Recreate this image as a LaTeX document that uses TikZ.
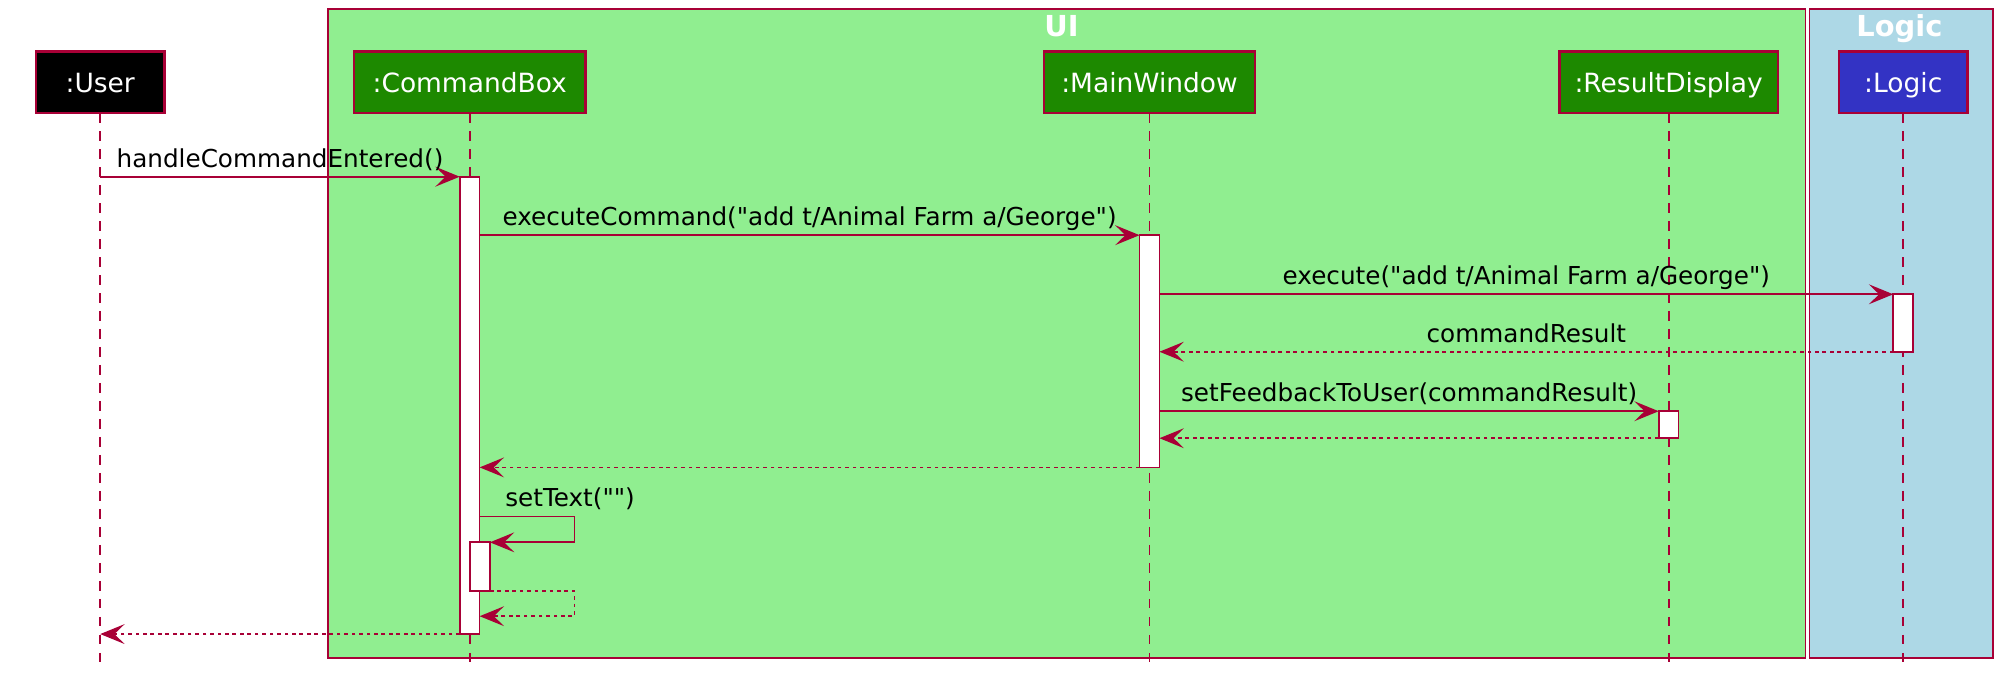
\documentclass[tikz,border=0pt]{standalone}
\usepackage{fontspec}
\setmainfont[Ligatures=TeXOff]{DejaVu Sans}
\usetikzlibrary{arrows.meta,calc}
\definecolor{bord}{HTML}{A80036}
\definecolor{uibg}{HTML}{90EE90}
\definecolor{logicbg}{HTML}{ADD8E6}
\definecolor{uicol}{HTML}{1D8900}
\definecolor{logiccol}{HTML}{3333C4}
\begin{document}
\begin{tikzpicture}[x=1pt,y=-1pt,
  grp/.style={draw=bord,line width=1.3pt,inner sep=0pt,outer sep=0pt,anchor=north west},
  part/.style={draw=bord,line width=2pt,text=white,minimum height=48pt,inner sep=0pt,outer sep=0pt,text height=15.6pt,text depth=0pt,font=\fontsize{20.6}{24}\selectfont},
  life/.style={draw=bord,line width=1.3pt,dash pattern=on 7.5pt off 6.5pt},
  act/.style={draw=bord,fill=white,line width=1.3pt,minimum width=15.5pt,inner sep=0pt,outer sep=0pt,anchor=north},
  msg/.style={draw=bord,line width=1.3pt,-{Stealth[length=19pt,width=15.5pt,inset=8pt]}},
  ret/.style={msg,dash pattern=on 2.9pt off 2.9pt},
  lbl/.style={font=\fontsize{19.2}{22}\selectfont,anchor=base,inner sep=0pt},
  ttl/.style={font=\bfseries\fontsize{22.5}{26}\selectfont,text=white,anchor=base,inner sep=0pt}
]
\useasboundingbox (0,0) rectangle (1568,538.5);
% groups
\node[grp,fill=uibg,minimum width=1150pt,minimum height=505pt] (ui) at (255,7) {};
\node[grp,fill=logicbg,minimum width=143pt,minimum height=505pt] (lg) at (1408,7) {};
\node[ttl] (uit) at (826,28.5) {UI};
\node[ttl] (lgt) at (1478,28.5) {Logic};
% participants
\node[part,fill=black,minimum width=100pt] (user) at (78,64) {:User};
\node[part,fill=uicol,minimum width=180pt] (cb) at (365.5,64) {:CommandBox};
\node[part,fill=uicol,minimum width=164pt] (mw) at (894.5,64) {:MainWindow};
\node[part,fill=uicol,minimum width=170pt] (rd) at (1298.5,64) {:ResultDisplay};
\node[part,fill=logiccol,minimum width=100pt] (lo) at (1481,64) {:Logic};
% lifeline ends
\coordinate (uB) at (78,516);
\coordinate (cbB) at (365.5,516);
\coordinate (mwB) at (894.5,516);
\coordinate (rdB) at (1298.5,516);
\coordinate (loB) at (1481,516);
\draw[life] (user.south) -- (uB);
\draw[life] (cb.south) -- (cbB);
\draw[life] (mw.south) -- (mwB);
\draw[life] (rd.south) -- (rdB);
\draw[life] (lo.south) -- (loB);
% activations
\node[act,minimum height=355.9pt] (aCB) at (365.5,137.5) {};
\node[act,minimum height=180.7pt] (aMW) at (894.5,183) {};
\node[act,minimum height=44.7pt] (aLG) at (1481,229) {};
\node[act,minimum height=21pt] (aRD) at (1298.5,320) {};
\node[act,minimum height=38pt] (aN) at (373.5,422) {};
% self message corners
\coordinate (s1) at (447,402);
\coordinate (s2) at (447,422);
\coordinate (s3) at (447,460);
\coordinate (s4) at (447,479.5);
% messages
\draw[msg] (uB |- aCB.north west) -- node[lbl,yshift=7.3pt] {handleCommandEntered()} (aCB.north west);
\draw[msg] (aCB.east |- aMW.north) -- node[lbl,yshift=7.3pt] {executeCommand("add t/Animal Farm a/George")} (aMW.north west);
\draw[msg] (aMW.east |- aLG.north) -- node[lbl,yshift=7.3pt] {execute("add t/Animal Farm a/George")} (aLG.north west);
\draw[ret] (aLG.south west) -- node[lbl,yshift=7.3pt] {commandResult} (aMW.east |- aLG.south west);
\draw[msg] (aMW.east |- aRD.north) -- node[lbl,yshift=7.3pt] {setFeedbackToUser(commandResult)} (aRD.north west);
\draw[ret] (aRD.south west) -- (aMW.east |- aRD.south west);
\draw[ret] (aMW.south west) -- (aCB.east |- aMW.south west);
\draw[msg] (aCB.east |- s1) -- (s1) -- (s2) -- (aN.north east);
\node[lbl,anchor=base west] (stl) at (393,394) {setText("")};
\draw[ret] (aN.south east) -- (s3) -- (s4) -- (aCB.east |- s4);
\draw[ret] (aCB.south west) -- (uB |- aCB.south west);
\end{tikzpicture}
\end{document}
